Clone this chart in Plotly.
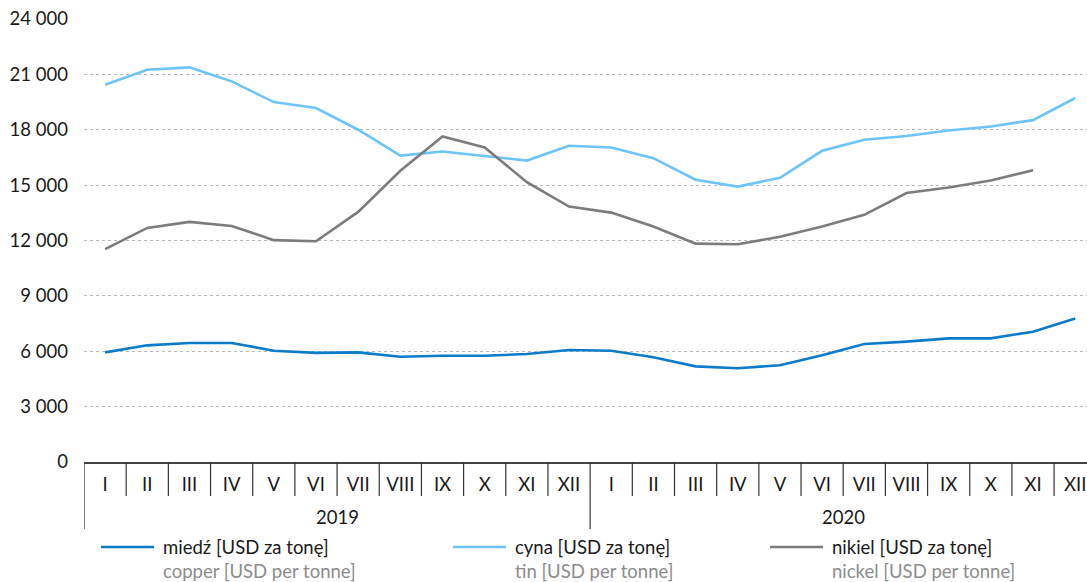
import plotly.graph_objects as go

# Monthly average metal prices, USD per tonne, Jan 2019 - Dec 2020
months = ["I", "II", "III", "IV", "V", "VI", "VII", "VIII", "IX", "X", "XI", "XII"]
years = ["2019", "2020"]

copper = [5940, 6320, 6450, 6450, 6030, 5910, 5940, 5700, 5760, 5760, 5850, 6070,
          6030, 5670, 5180, 5080, 5240, 5780, 6390, 6520, 6700, 6700, 7060, 7770]
tin = [20440, 21250, 21380, 20620, 19500, 19180, 18000, 16600, 16820, 16590, 16330, 17130,
       17040, 16460, 15290, 14920, 15400, 16860, 17460, 17660, 17960, 18180, 18520, 19720]
nickel = [11530, 12680, 13010, 12790, 12020, 11960, 13550, 15780, 17640, 17040, 15160, 13840,
          13510, 12760, 11830, 11800, 12200, 12760, 13390, 14570, 14870, 15250, 15810, None]

series_names = ["miedź [USD za tonę]", "cyna [USD za tonę]", "nikiel [USD za tonę]"]
series_names_en = ["copper [USD per tonne]", "tin [USD per tonne]", "nickel [USD per tonne]"]
colors = ["#0b7bca", "#6cc4fb", "#7c7c7c"]

W, H = 1087, 582
ML, MR, MT, MB = 84, 0, 19, 120
PW, PH = W - ML - MR, H - MT - MB
FONT = "Lato"
FS = 18.5


def px_x(x):
    return (x - ML) / PW


def px_y(y):
    return (H - MB - y) / PH


n = len(months) * len(years)
xs = list(range(n))
labels = months * len(years)

fig = go.Figure()
for vals, name, col in zip([copper, tin, nickel], series_names, colors):
    fig.add_trace(go.Scatter(x=xs, y=vals, mode="lines", name=name,
                             line=dict(color=col, width=2.6), connectgaps=False,
                             showlegend=False))

shapes = []
# month dividers below the axis
for i in range(n + 1):
    b = i - 0.5
    if b > 23.28:
        continue
    year_edge = (i % 12 == 0)
    shapes.append(dict(type="line", xref="x", yref="paper", x0=b, x1=b,
                       y0=0, y1=px_y(529 if year_edge else 496),
                       line=dict(color="#333333", width=1.2)))

annotations = []
for k, yr in enumerate(years):
    annotations.append(dict(x=k * 12 + 5.5, y=px_y(517), xref="x", yref="paper",
                            text=yr, showarrow=False, yanchor="middle",
                            font=dict(family=FONT, size=FS, color="#1a1a1a")))

# legend: line sample plus Polish / English label
legend_x = [101, 453, 770]
for lx, col, pl, en in zip(legend_x, colors, series_names, series_names_en):
    shapes.append(dict(type="line", xref="paper", yref="paper",
                       x0=px_x(lx), x1=px_x(lx + 53), y0=px_y(547), y1=px_y(547),
                       line=dict(color=col, width=2.6)))
    annotations.append(dict(x=px_x(lx + 60), y=px_y(547), xref="paper", yref="paper",
                            text=pl, showarrow=False, xanchor="left", yanchor="middle",
                            font=dict(family=FONT, size=FS, color="#1a1a1a")))
    annotations.append(dict(x=px_x(lx + 60), y=px_y(571), xref="paper", yref="paper",
                            text=en, showarrow=False, xanchor="left", yanchor="middle",
                            font=dict(family=FONT, size=FS, color="#8c8c8c")))

fig.update_layout(
    width=W, height=H,
    margin=dict(l=ML, r=MR, t=MT, b=MB, pad=0),
    paper_bgcolor="white", plot_bgcolor="white",
    separators=", ",
    font=dict(family=FONT, size=FS, color="#1a1a1a"),
    shapes=shapes, annotations=annotations,
    xaxis=dict(range=[-0.5, 23.28], tickmode="array", tickvals=xs, ticktext=labels,
               showgrid=False, zeroline=False, showline=True, linecolor="#444444",
               linewidth=1.5, ticks="", ticklabelstandoff=5,
               tickfont=dict(family=FONT, size=FS, color="#1a1a1a")),
    yaxis=dict(range=[0, 24000], tickmode="array",
               tickvals=list(range(0, 24001, 3000)), tickformat=",d",
               showgrid=True, gridcolor="#b8b8b8", griddash="dot", gridwidth=1,
               zeroline=False, showline=False, ticks="", ticklabelstandoff=15,
               tickfont=dict(family=FONT, size=FS, color="#1a1a1a")),
)

fig.write_html("out.html")
